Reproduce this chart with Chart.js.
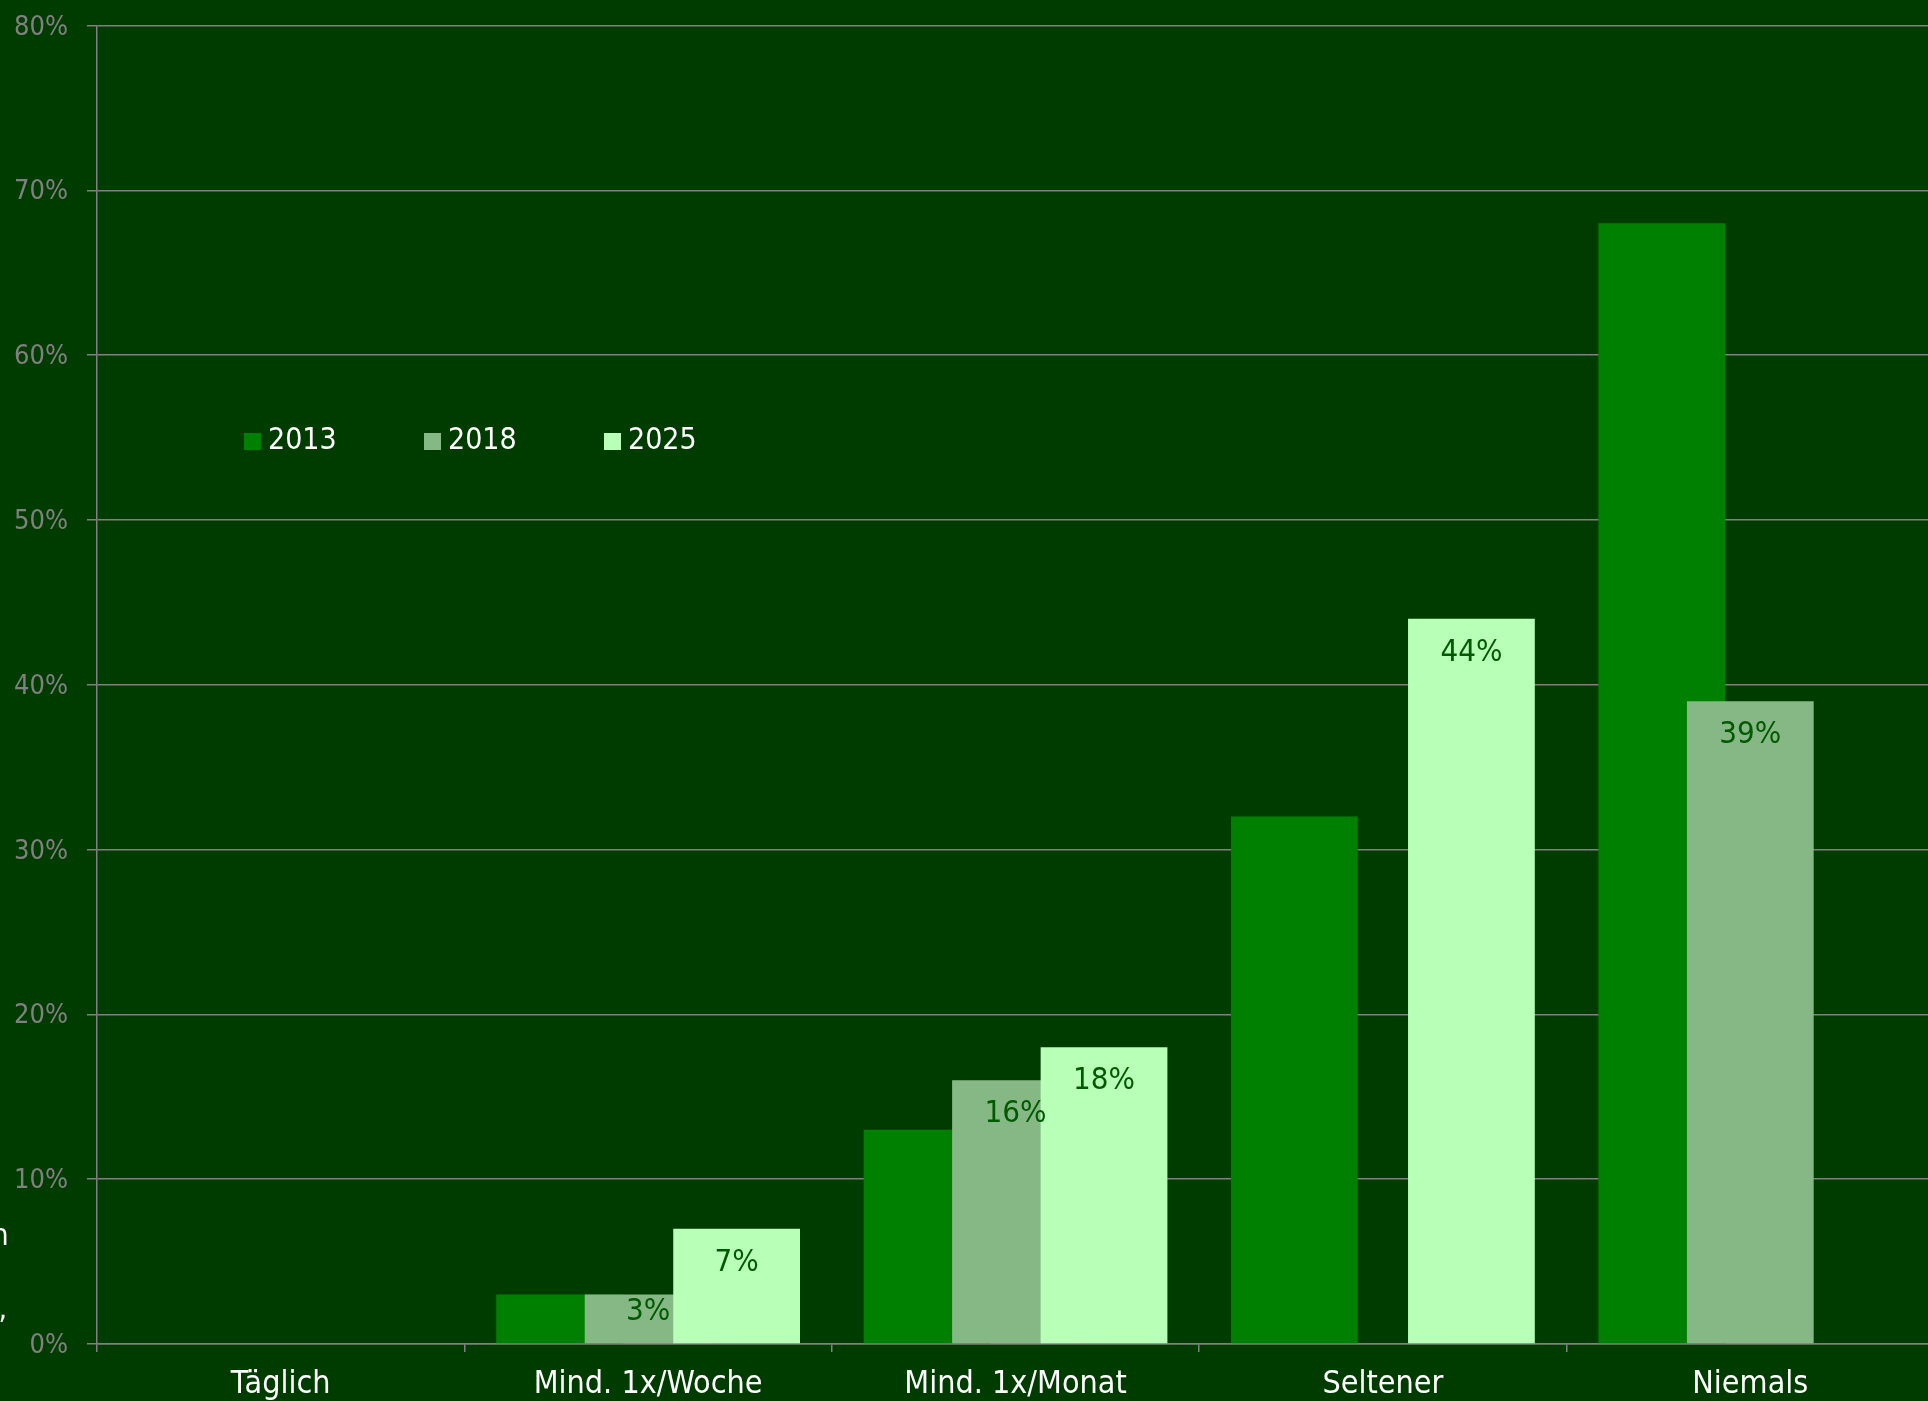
<!DOCTYPE html>
<html>
<head>
<meta charset="utf-8">
<script src="https://cdn.jsdelivr.net/npm/chart.js@4.4.1/dist/chart.umd.min.js"></script>
<style>
    html, body { margin: 0; padding: 0; background: #003b00; overflow: hidden; }
    #wrap { position: relative; width: 1934px; height: 1401px; }
</style>
</head>
<body>
<div id="wrap"><canvas id="chart"></canvas></div>
<script>
var categories = ['Täglich', 'Mind. 1x/Woche', 'Mind. 1x/Monat', 'Seltener', 'Niemals'];
var seriesNames = ['2013', '2018', '2025'];
var values2013 = [null, 3, 13, 32, 68];
var values2018 = [null, 3, 16, null, 39];
var values2025 = [null, 7, 18, 44, null];
var yMax = 80;
var yStep = 10;

var FONT = '"DejaVu Sans Condensed", "DejaVu Sans", sans-serif';
var GRID = '#808080';

// Balken in Reihenfolge 2013 -> 2025 zeichnen, damit die späteren Jahre oben liegen
var drawOrder = {
    id: 'drawOrder',
    beforeDatasetDraw: function () {
        return false;
    },
    afterDatasetsDraw: function (chart) {
        chart.getSortedVisibleDatasetMetas().forEach(function (meta) {
            meta.controller.draw();
        });
    }
};

// Prozentwerte oben im Balken (nur 2018 und 2025)
var valueLabels = {
    id: 'valueLabels',
    afterDatasetsDraw: function (chart) {
        var ctx = chart.ctx;
        var base = chart.scales.y.getPixelForValue(0);
        ctx.save();
        ctx.font = '31px ' + FONT;
        ctx.fillStyle = '#005a00';
        ctx.textAlign = 'center';
        ctx.textBaseline = 'middle';
        chart.data.datasets.forEach(function (ds, i) {
            if (!ds.showValues) {
                return;
            }
            chart.getDatasetMeta(i).data.forEach(function (bar, j) {
                if (ds.data[j] === null) {
                    return;
                }
                var y = Math.min(bar.y + 34, base - 32);
                ctx.fillText(ds.data[j] + '%', bar.x, y);
            });
        });
        ctx.restore();
    }
};

// Legende innerhalb der Zeichenfläche
var innerLegend = {
    id: 'innerLegend',
    afterDraw: function (chart) {
        var ctx = chart.ctx;
        ctx.save();
        ctx.font = '30px ' + FONT;
        ctx.textBaseline = 'middle';
        ctx.textAlign = 'left';
        chart.data.datasets.forEach(function (ds, i) {
            var x = 244 + i * 180;
            ctx.fillStyle = ds.backgroundColor;
            ctx.fillRect(x, 433, 17, 17);
            ctx.fillStyle = '#ffffff';
            ctx.fillText(ds.label, x + 24, 441);
        });
        // abgeschnittener Text am linken Rand
        ctx.textAlign = 'right';
        ctx.textBaseline = 'alphabetic';
        ctx.font = '30px ' + FONT;
        ctx.fillText('n', 8.5, 1245);
        ctx.fillText(',', 7, 1318);
        ctx.restore();
    }
};

var ctx = document.getElementById('chart').getContext('2d');
var chart = new Chart(ctx, {
    type: 'bar',
    data: {
        labels: categories,
        datasets: [{
            label: seriesNames[0],
            data: values2013,
            backgroundColor: '#008000',
            showValues: false
        }, {
            label: seriesNames[1],
            data: values2018,
            backgroundColor: '#86b886',
            showValues: true
        }, {
            label: seriesNames[2],
            data: values2025,
            backgroundColor: '#b8ffb8',
            showValues: true
        }]
    },
    options: {
        responsive: true,
        maintainAspectRatio: false,
        animation: false,
        barPercentage: 1.432,
        categoryPercentage: 0.7228,
        layout: {
            padding: { top: 25.5, right: 0, bottom: 0, left: 0 }
        },
        plugins: {
            legend: { display: false },
            tooltip: { enabled: false }
        },
        scales: {
            x: {
                offset: true,
                grid: {
                    offset: true,
                    drawOnChartArea: false,
                    drawTicks: true,
                    tickLength: 8,
                    color: GRID,
                    lineWidth: 1.5
                },
                border: { display: true, color: GRID, width: 1.5 },
                ticks: {
                    color: '#ffffff',
                    padding: 13,
                    maxRotation: 0,
                    font: { family: FONT, size: 32 }
                },
                afterFit: function (scale) {
                    scale.height = 57;
                }
            },
            y: {
                min: 0,
                max: yMax,
                grid: {
                    color: GRID,
                    lineWidth: 1.5,
                    tickLength: 10
                },
                border: { display: true, color: GRID, width: 1.5 },
                ticks: {
                    stepSize: yStep,
                    color: GRID,
                    padding: 19,
                    labelOffset: 2,
                    font: { family: FONT, size: 27, lineHeight: 0.4 },
                    callback: function (v) {
                        return v + '%';
                    }
                },
                afterFit: function (scale) {
                    scale.width = 97;
                }
            }
        }
    },
    plugins: [drawOrder, valueLabels, innerLegend]
});
</script>
</body>
</html>
